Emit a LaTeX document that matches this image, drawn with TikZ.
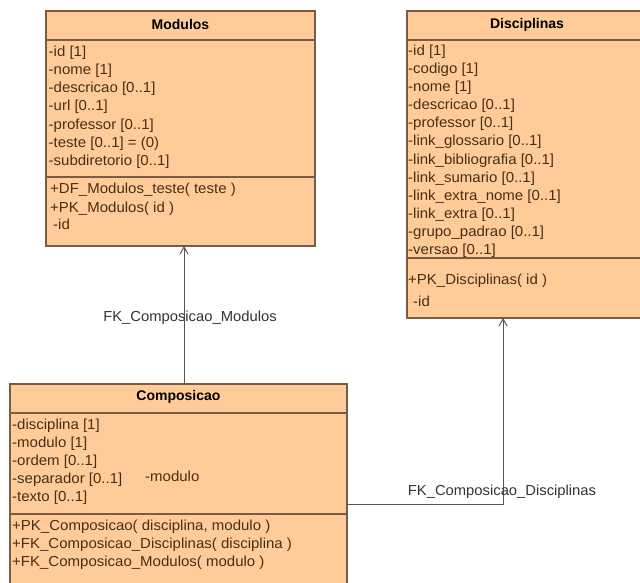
\documentclass[tikz,border=0pt]{standalone}
\usepackage{fontspec}
\setmainfont{Liberation Sans}
\usetikzlibrary{arrows.meta}
\definecolor{boxfill}{HTML}{FFCC99}
\definecolor{boxline}{HTML}{7A5C42}
\definecolor{attrclr}{HTML}{4A2E14}
\definecolor{connclr}{HTML}{555555}
\begin{document}
\begin{tikzpicture}[x=1pt,y=-1pt,
  classbox/.style={draw=boxline, line width=1.2pt, fill=boxfill, anchor=north west, inner sep=0pt, outer sep=0pt},
  boxtitle/.style={font=\fontsize{14}{16}\selectfont\bfseries, text=black, inner sep=0pt},
  attrtext/.style={font=\fontsize{14.5}{17}\selectfont\addfontfeature{FakeStretch=1.035}, text=attrclr, anchor=west, inner sep=0pt, text height=10.5pt, text depth=3pt},
  seprule/.style={draw=boxline, line width=1.2pt},
  connline/.style={draw=connclr, line width=1pt},
  fkarrow/.style={-{Straight Barb[length=7pt,width=8pt]}},
  lbl/.style={font=\fontsize{14.5}{17}\selectfont\addfontfeature{FakeStretch=1.02}, text=black!80, inner sep=0pt}]
\clip (0,0) rectangle (640,582);
\fill[white] (0,0) rectangle (640,582);

% Modulos
\node[classbox, minimum width=269pt, minimum height=235pt] (mod) at (46,11) {};
\draw[seprule] (mod.west |- 0,40) -- (mod.east |- 0,40);
\draw[seprule] (mod.west |- 0,177) -- (mod.east |- 0,177);
\node[boxtitle] (modt) at (180.5,24.5) {Modulos};
\foreach \t [count=\i] in {-id [1], -nome [1], -descricao [0..1], -url [0..1], -professor [0..1], -teste [0..1] = (0), -subdiretorio [0..1]}
  \node[attrtext] (ma\i) at (48.5,{52.7+18.15*(\i-1)}) {\t};
\node[attrtext] (mm1) at (50,190) {+DF\_Modulos\_teste( teste )};
\node[attrtext] (mm2) at (50,208.3) {+PK\_Modulos( id )};
\node[attrtext] (mm3) at (53,225.5) {-id};

% Disciplinas
\node[classbox, minimum width=260pt, minimum height=307pt] (dis) at (407,11) {};
\draw[seprule] (dis.west |- 0,40) -- (dis.east |- 0,40);
\draw[seprule] (dis.west |- 0,258) -- (dis.east |- 0,258);
\node[boxtitle] (dist) at (527,24.5) {Disciplinas};
\foreach \t [count=\i] in {-id [1], -codigo [1], -nome [1], -descricao [0..1], -professor [0..1], -link\_glossario [0..1], -link\_bibliografia [0..1], -link\_sumario [0..1], -link\_extra\_nome [0..1], -link\_extra [0..1], -grupo\_padrao [0..1], -versao [0..1]}
  \node[attrtext] (da\i) at (408,{51.7+18.1*(\i-1)}) {\t};
\node[attrtext] (dm1) at (408,281) {+PK\_Disciplinas( id )};
\node[attrtext] (dm2) at (413,302.5) {-id};

% Composicao
\node[classbox, minimum width=337pt, minimum height=230pt] (com) at (10,384) {};
\draw[seprule] (com.west |- 0,413) -- (com.east |- 0,413);
\draw[seprule] (com.west |- 0,514) -- (com.east |- 0,514);
\node[boxtitle] (comt) at (178.5,397) {Composicao};
\foreach \t [count=\i] in {-disciplina [1], -modulo [1], -ordem [0..1], -separador [0..1], -texto [0..1]}
  \node[attrtext] (ca\i) at (12,{426+17.9*(\i-1)}) {\t};
\node[attrtext] (crole) at (145,477.5) {-modulo};
\node[attrtext] (cm1) at (12,527) {+PK\_Composicao( disciplina, modulo )};
\node[attrtext] (cm2) at (12,544.5) {+FK\_Composicao\_Disciplinas( disciplina )};
\node[attrtext] (cm3) at (12,562.5) {+FK\_Composicao\_Modulos( modulo )};

% connectors
\draw[connline, fkarrow] (com.north -| 184,0) -- (mod.south -| 184,0);
\node[lbl] (l1) at (190,318) {FK\_Composicao\_Modulos};
\draw[connline, fkarrow] (com.east |- 0,504) -| (dis.south -| 503,0);
\node[lbl] (l2) at (502,492) {FK\_Composicao\_Disciplinas};
\end{tikzpicture}
\end{document}
